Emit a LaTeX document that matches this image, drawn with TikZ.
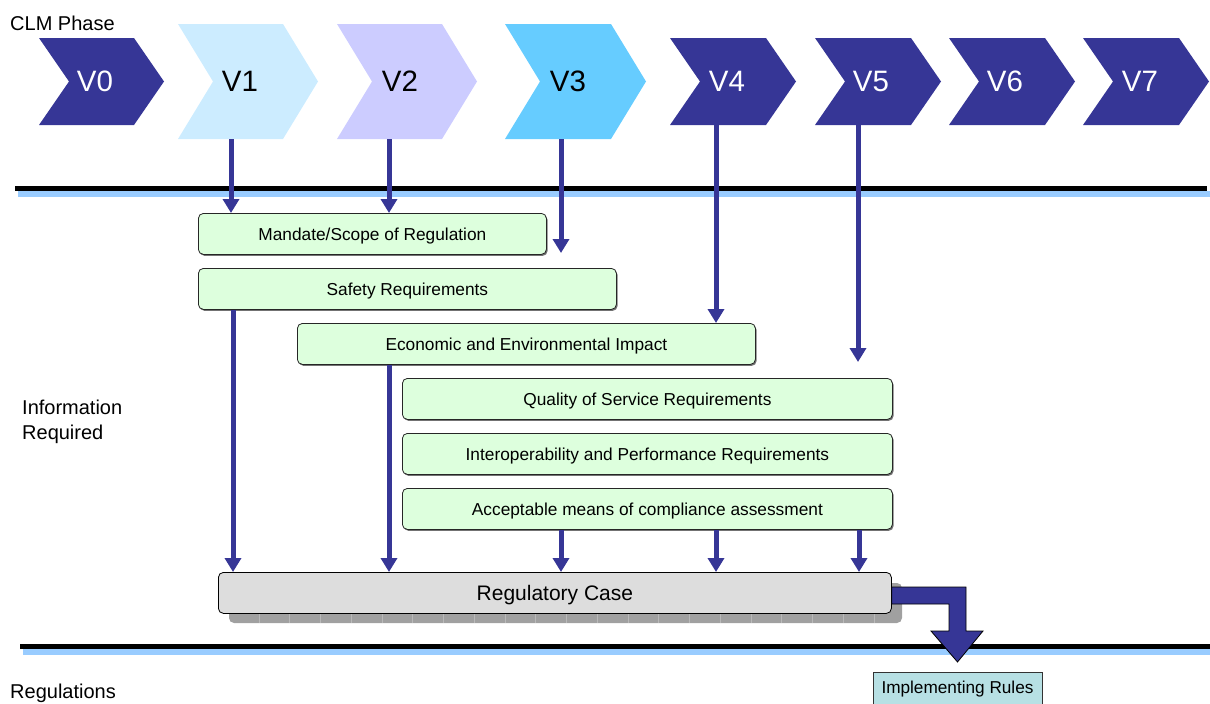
\documentclass[tikz,border=0pt]{standalone}
\usepackage{fontspec}
\setmainfont{Liberation Sans}
\usetikzlibrary{arrows.meta,shadows}

\definecolor{navy}{RGB}{54,54,150}
\definecolor{phaseA}{RGB}{204,236,255}
\definecolor{phaseB}{RGB}{204,204,255}
\definecolor{phaseC}{RGB}{102,204,255}
\definecolor{ruleblue}{RGB}{153,204,255}
\definecolor{infogreen}{RGB}{221,255,221}
\definecolor{casegray}{RGB}{221,221,221}
\definecolor{caseshadow}{RGB}{160,160,160}
\definecolor{caseseam}{RGB}{185,185,185}
\definecolor{ruleteal}{RGB}{183,224,228}

% chevron: left x, tip x, notch depth, top y, bottom y, fill colour
\newcommand\chevron[6]{%
  \fill[#6] (#1,#4) -- ({#2-#3},#4) -- (#2,{(#4+#5)/2}) -- ({#2-#3},#5)
    -- (#1,#5) -- ({#1+#3},{(#4+#5)/2}) -- cycle;}

\begin{document}
\begin{tikzpicture}[x=1pt,y=-1pt,
  lab/.style={inner sep=0pt, font=\fontsize{20}{25}\selectfont},
  vlab/.style={inner sep=0pt, font=\fontsize{29.5}{30}\selectfont},
  arr/.style={draw=navy, line width=5pt, -{Triangle[width=16pt,length=14pt]}, fill=navy},
  infobox/.style={draw=black!85, fill=infogreen, rounded corners=5pt, line width=0.8pt,
    minimum height=41pt, inner sep=0pt, anchor=north west,
    font=\fontsize{17.3}{20}\selectfont, text height=12.4pt, text depth=0pt,
    drop shadow={shadow xshift=1.2pt, shadow yshift=-1.5pt, fill=black!55, opacity=1}},
  casebox/.style={draw=black, fill=casegray, rounded corners=5pt, line width=0.8pt,
    minimum width=673pt, minimum height=41pt, inner sep=0pt, anchor=north west,
    font=\fontsize{21}{24}\selectfont, text height=15pt, text depth=0pt},
  rulebox/.style={draw=black!80, fill=ruleteal, line width=0.8pt,
    minimum width=169pt, inner xsep=0pt, inner ysep=0pt,
    font=\fontsize{17.2}{20}\selectfont, text height=21pt, text depth=30pt}
]
\useasboundingbox (0,0) rectangle (1210,704);

% horizontal separators
\fill[black] (15,186) rectangle (1207,191);
\fill[ruleblue] (18,191) rectangle (1210,197);
\fill[black] (20,644) rectangle (1210,649);
\fill[ruleblue] (23,649) rectangle (1210,655);

% CLM phase chevrons
\chevron{39}{164}{30}{38}{125}{navy}
\chevron{178}{318}{35}{24}{139}{phaseA}
\chevron{337}{477}{35}{24}{139}{phaseB}
\chevron{505}{646}{35}{24}{139}{phaseC}
\chevron{670}{796}{30}{38}{125}{navy}
\chevron{815}{941}{30}{38}{125}{navy}
\chevron{949}{1075}{30}{38}{125}{navy}
\chevron{1083}{1209}{30}{38}{125}{navy}

\node[vlab, white] (v0) at (95,81.5) {V0};
\node[vlab] (v1) at (240,81.5) {V1};
\node[vlab] (v2) at (400,81.5) {V2};
\node[vlab] (v3) at (568,81.5) {V3};
\node[vlab, white] (v4) at (727,81.5) {V4};
\node[vlab, white] (v5) at (871,81.5) {V5};
\node[vlab, white] (v6) at (1005,81.5) {V6};
\node[vlab, white] (v7) at (1140,81.5) {V7};

% side labels
\node[lab, anchor=base west] (clm) at (10,30) {CLM Phase};
\node[lab, anchor=base west, align=left] (info) at (22,439) {Information\\Required};
\node[lab, anchor=base west] (regs) at (10,698) {Regulations};

% information items
\node[infobox, minimum width=348pt] (mandate) at (198,213) {Mandate/Scope of Regulation};
\node[infobox, minimum width=418pt] (safety) at (198,268) {Safety Requirements};
\node[infobox, minimum width=458pt] (econ) at (297,323) {Economic and Environmental Impact};
\node[infobox, minimum width=490pt] (qos) at (402,378) {Quality of Service Requirements};
\node[infobox, minimum width=490pt] (interop) at (402,433) {Interoperability and Performance Requirements};
\node[infobox, minimum width=490pt] (amc) at (402,488) {Acceptable means of compliance assessment};

% regulatory case with its stacked backing
\fill[caseshadow, rounded corners=5pt] (229,583) rectangle (902,623);
\foreach \i in {0,...,20}
  \draw[caseseam, line width=0.8pt] ({259+30.75*\i},612) -- ({259+30.75*\i},623);
\node[casebox] (reg) at (218,572) {Regulatory Case};

% implementing rules
\node[rulebox, anchor=base] (impl) at (957.5,693) {Implementing Rules};

% phase inputs
\coordinate (v1s) at (231,139);
\coordinate (v2s) at (389,139);
\coordinate (v3s) at (561,139);
\coordinate (v3e) at (561,253);
\coordinate (v4s) at (716,125);
\coordinate (v5s) at (858,125);
\coordinate (v5e) at (858,362);
\draw[arr] (v1s) -- (v1s |- mandate.north);
\draw[arr] (v2s) -- (v2s |- mandate.north);
\draw[arr] (v3s) -- (v3e);
\draw[arr] (v4s) -- (v4s |- econ.north);
\draw[arr] (v5s) -- (v5e);

% feeds into the regulatory case
\draw[arr] (233,0 |- safety.south) -- (233,0 |- reg.north);
\draw[arr] (389,0 |- econ.south) -- (389,0 |- reg.north);
\draw[arr] (561,0 |- amc.south) -- (561,0 |- reg.north);
\draw[arr] (716,0 |- amc.south) -- (716,0 |- reg.north);
\draw[arr] (859,0 |- amc.south) -- (859,0 |- reg.north);

% bent block arrow from the case down to the rules
\filldraw[fill=navy, draw=black, line width=0.8pt, line join=miter]
  (reg.east |- 0,587) -- (966,587) -- (966,631) -- (983,631)
  -- (impl.north |- 0,662) -- (931,631) -- (949,631) -- (949,604)
  -- (reg.east |- 0,604) -- cycle;
\end{tikzpicture}
\end{document}
